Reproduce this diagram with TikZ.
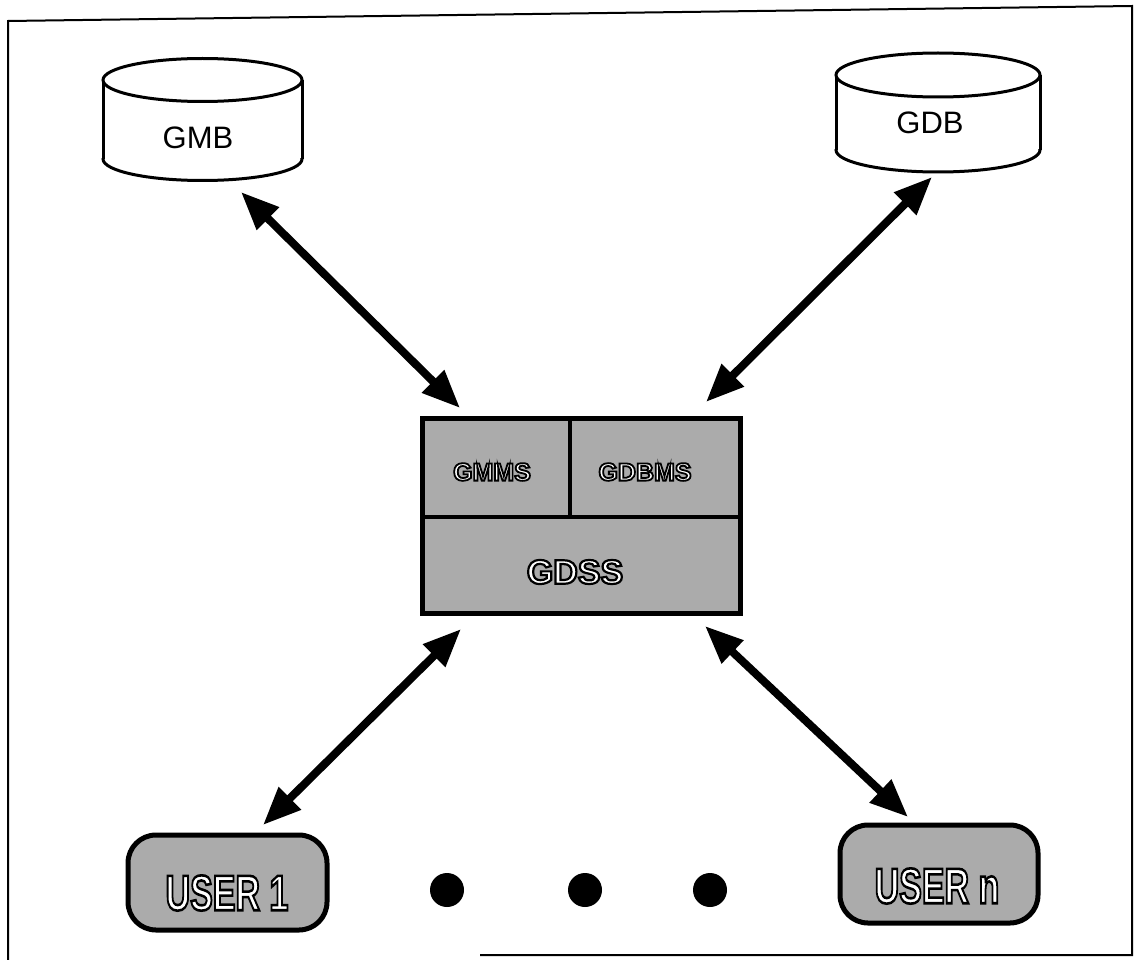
\documentclass[tikz,border=0pt]{standalone}
\usepackage{fontspec}
\setmainfont{Liberation Sans}
\usetikzlibrary{arrows.meta}
\newcommand{\outl}[2][2]{{\bfseries\special{pdf:literal direct 2 Tr #1 w 1 g 0 G}#2\special{pdf:literal direct 0 Tr 0 g 0 G}}}
\begin{document}
\begin{tikzpicture}[x=1pt,y=-1pt,
  link/.style={line width=8pt,
    {Triangle[length=38pt,width=30pt]}-{Triangle[length=38pt,width=30pt]}},
  shaded/.style={fill=black!33},
  dblbl/.style={font=\fontsize{31}{36}\selectfont, inner sep=0pt},
  sublbl/.style={font=\fontsize{25}{30}\selectfont, inner sep=0pt},
  mainlbl/.style={font=\fontsize{34}{40}\selectfont, inner sep=0pt},
  userbox/.style={shaded, draw, line width=5pt, rounded corners=28pt,
    inner sep=0pt},
  usertxt/.style={font=\fontsize{50}{56}\selectfont, inner sep=0pt},
  dot/.style={fill=black},
  cyl/.style={line width=3pt}
]
\useasboundingbox (0,0) rectangle (1134,960);
% frame
\draw[line width=2pt] (8,960) -- (8,21) -- (1132,6) -- (1132,955) -- (480,955);

% GMB cylinder
\fill[white] (103,80) rectangle (302,159);
\begin{scope}
  \clip (90,159) rectangle (320,200);
  \draw[cyl, fill=white] (202.5,159) ellipse[x radius=99.5, y radius=21.5];
\end{scope}
\draw[cyl] (103,80) -- (103,159) (302,80) -- (302,159);
\draw[cyl, fill=white] (202.5,80) ellipse[x radius=99.5, y radius=21.5];
\node[dblbl] (gmb) at (198,138) {GMB};

% GDB cylinder
\fill[white] (836,75) rectangle (1040,150);
\begin{scope}
  \clip (820,150) rectangle (1060,200);
  \draw[cyl, fill=white] (938,150) ellipse[x radius=102, y radius=22];
\end{scope}
\draw[cyl] (836,75) -- (836,150) (1040,75) -- (1040,150);
\draw[cyl, fill=white] (938,75) ellipse[x radius=102, y radius=22];
\node[dblbl] (gdb) at (930,123) {GDB};

% central box
\draw[shaded, line width=5pt] (422,418) rectangle (740,613);
\draw[line width=3.5pt] (422,517) -- (740,517);
\draw[line width=3.5pt] (570,418) -- (570,517);
\node[sublbl] (gmms) at (492,472) {\outl[1.8]{GMMS}};
\node[sublbl] (gdbms) at (645,472) {\outl[1.8]{GDBMS}};
\node[mainlbl] (gdss) at (575,572) {\outl[2.2]{GDSS}};

% users
\node[userbox, minimum width=199pt, minimum height=95pt] (u1) at (227.5,882.5) {};
\node[usertxt] (u1t) at (227,893) {\scalebox{0.68}[1]{\outl[2.6]{USER 1}}};
\node[userbox, minimum width=198pt, minimum height=98pt] (un) at (939,874) {};
\node[usertxt] (unt) at (937,886) {\scalebox{0.68}[1]{\outl[2.6]{USER n}}};

% dots
\fill[dot] (447,890) circle[radius=17];
\fill[dot] (585,890) circle[radius=17];
\fill[dot] (710,890) circle[radius=17];

% arrow end points
\coordinate (gmbE) at (241,192);
\coordinate (gdssNW) at (460,408);
\coordinate (gdbE) at (932,177);
\coordinate (gdssNE) at (706,402);
\coordinate (gdssSW) at (461,629);
\coordinate (u1E) at (263,825);
\coordinate (gdssSE) at (705,626);
\coordinate (unE) at (908,817);

\draw[link] (gmbE) -- (gdssNW);
\draw[link] (gdbE) -- (gdssNE);
\draw[link] (gdssSW) -- (u1E);
\draw[link] (gdssSE) -- (unE);
\end{tikzpicture}
\end{document}
